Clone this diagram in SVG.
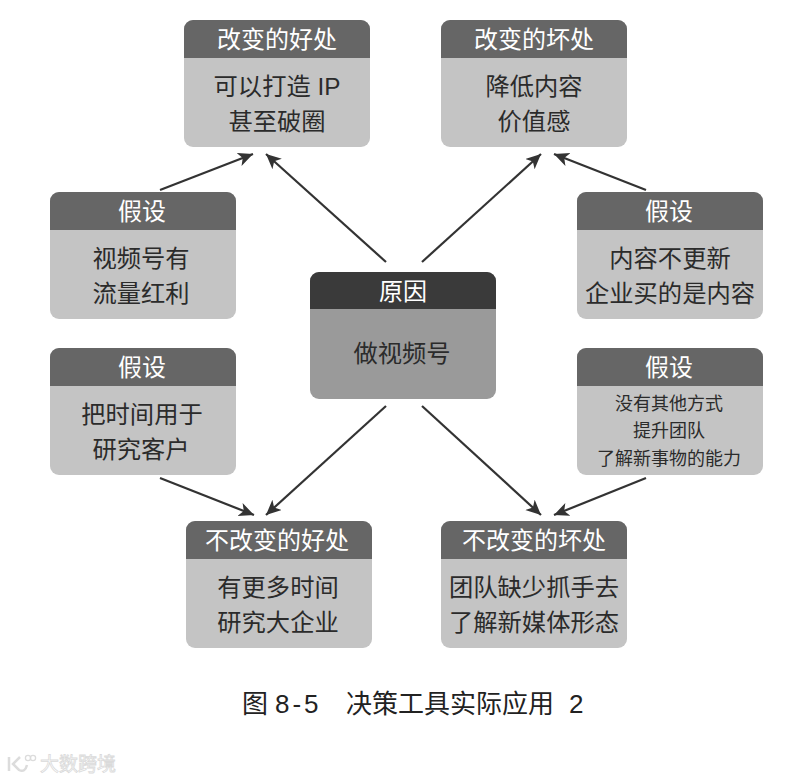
<svg xmlns="http://www.w3.org/2000/svg" width="810" height="780" viewBox="0 0 810 780">
<style>
text{font-family:"Liberation Sans","Noto Sans CJK SC",sans-serif;text-anchor:middle;font-weight:400}
.b{fill:#c4c4c4}
.h{fill:#666}
.hd{fill:#3a3a3a}
.bd{fill:#9a9a9a}
.t{font-size:24px;fill:#fff}
.c{font-size:24.3px;fill:#2b2b2b}
.s{font-size:18px;fill:#2b2b2b}
.cap{font-size:26px;fill:#222;text-anchor:start}
.wm{font-size:19px;fill:#fff;stroke:#dadada;stroke-width:.8;text-anchor:start}
.l{stroke:#333;stroke-width:2.2;fill:none;marker-end:url(#a)}
</style>
<defs>
<marker id="a" markerUnits="userSpaceOnUse" markerWidth="18" markerHeight="16" refX="15" refY="7" orient="auto"><path d="M0 0L15 7L0 14L4 7Z" fill="#333"/></marker>
<g id="card"><rect width="186" height="127" rx="9" class="b"/><path d="M0 38V9a9 9 0 0 1 9-9H177a9 9 0 0 1 9 9V38Z" class="h"/></g>
</defs>
<rect width="810" height="780" fill="#fff"/>
<g id="connectors">
<path class="l" d="M160 190L253 154"/>
<path class="l" d="M386 262L266 154"/>
<path class="l" d="M422 262L541 154"/>
<path class="l" d="M646 190L554 154"/>
<path class="l" d="M386 406L266 515"/>
<path class="l" d="M422 406L541 515"/>
<path class="l" d="M160 478L254 515"/>
<path class="l" d="M646 478L554 515"/>
</g>
<g id="n-good"><use href="#card" x="184" y="20"/><text class="t" x="277" y="48">改变的好处</text><text class="c" x="277" y="95">可以打造 IP</text><text class="c" x="277" y="130">甚至破圈</text></g>
<g id="n-bad"><use href="#card" x="441" y="20"/><text class="t" x="534" y="48">改变的坏处</text><text class="c" x="534" y="95">降低内容</text><text class="c" x="534" y="130">价值感</text></g>
<g id="n-a1"><use href="#card" x="50" y="192"/><text class="t" x="142" y="220">假设</text><text class="c" x="141" y="267">视频号有</text><text class="c" x="141" y="302">流量红利</text></g>
<g id="n-a2"><use href="#card" x="577" y="192"/><text class="t" x="669" y="220">假设</text><text class="c" x="670" y="267">内容不更新</text><text class="c" x="670" y="302">企业买的是内容</text></g>
<g id="n-center"><rect x="310" y="272" width="186" height="127" rx="9" class="bd"/><path d="M310 309V281a9 9 0 0 1 9-9H487a9 9 0 0 1 9 9V309Z" class="hd"/><text class="t" x="403" y="300">原因</text><text class="c" x="402" y="362">做视频号</text></g>
<g id="n-a3"><use href="#card" x="50" y="348"/><text class="t" x="142" y="376">假设</text><text class="c" x="142" y="423">把时间用于</text><text class="c" x="141" y="458">研究客户</text></g>
<g id="n-a4"><use href="#card" x="577" y="348"/><text class="t" x="669" y="376">假设</text><text class="s" x="669" y="410">没有其他方式</text><text class="s" x="669" y="437">提升团队</text><text class="s" x="669" y="465">了解新事物的能力</text></g>
<g id="n-ngood"><use href="#card" x="186" y="521"/><text class="t" x="277" y="549">不改变的好处</text><text class="c" x="278" y="596">有更多时间</text><text class="c" x="278" y="631">研究大企业</text></g>
<g id="n-nbad"><use href="#card" x="441" y="521"/><text class="t" x="534" y="549">不改变的坏处</text><text class="c" x="534" y="596">团队缺少抓手去</text><text class="c" x="534" y="631">了解新媒体形态</text></g>
<text class="cap" x="242" y="713">图</text>
<text class="cap" x="275" y="713" letter-spacing="3">8-5</text>
<text class="cap" x="346" y="713">决策工具实际应用</text>
<text class="cap" x="569" y="713">2</text>
<g id="watermark" fill="none" stroke="#dcdcdc" stroke-width="2.5">
<path d="M9 757V771M20 757L13 764L19 770Q25 773 27 765"/>
<circle cx="28" cy="758" r="2.6" stroke-width="1.3"/><circle cx="33" cy="758" r="2.6" stroke-width="1.3"/>
<text class="wm" x="40" y="771">大数跨境</text>
</g>
</svg>
